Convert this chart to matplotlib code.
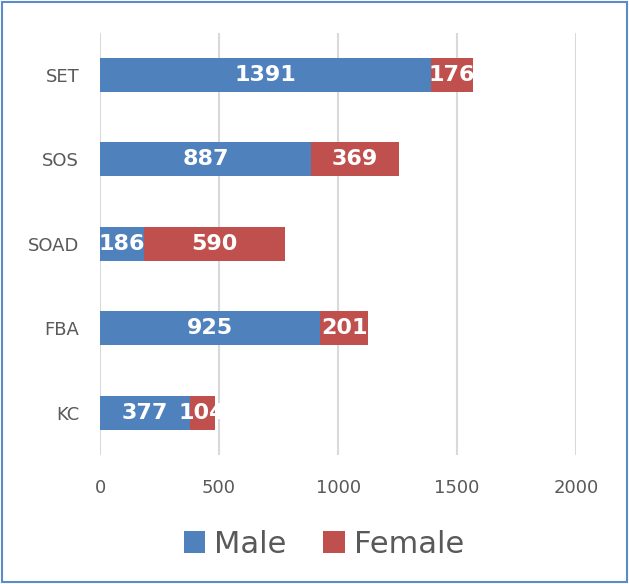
import numpy as np
import matplotlib.pyplot as plt
from matplotlib.patches import Rectangle

# -- data --
schools = ["SET", "SOS", "SOAD", "FBA", "KC"]
male = [1391, 887, 186, 925, 377]
female = [176, 369, 590, 201, 104]
xticks = [0, 500, 1000, 1500, 2000]

blue = "#4F81BD"
red = "#C0504D"
grey = "#595959"

fig = plt.figure(figsize=(6.29, 5.84), dpi=100)
ax = fig.add_axes([0.159, 0.221, 0.757, 0.723])

y = np.arange(len(schools))
h = 0.4
ax.barh(y, male, height=h, color=blue, label="Male", zorder=3)
ax.barh(y, female, left=male, height=h, color=red, label="Female", zorder=3)

# -- data labels --
for i in range(len(schools)):
    ax.text(male[i] / 2, y[i], str(male[i]), ha="center", va="center",
            color="white", fontsize=16, fontweight="bold", zorder=4)
    ax.text(male[i] + female[i] / 2, y[i], str(female[i]), ha="center", va="center",
            color="white", fontsize=16, fontweight="bold", zorder=4)

ax.set_xlim(0, 2000)
ax.set_ylim(len(schools) - 0.5, -0.5)
ax.set_yticks(y)
ax.set_yticklabels(schools)
ax.set_xticks(xticks)
ax.tick_params(axis="both", length=0, colors=grey, labelsize=13)
ax.tick_params(axis="y", pad=15)
ax.tick_params(axis="x", pad=17)
ax.grid(axis="x", color="#D9D9D9", linewidth=1.5, zorder=0)
for s in ax.spines.values():
    s.set_visible(False)

leg = fig.legend(loc="center", bbox_to_anchor=(0.515, 0.068), ncol=2, frameon=False,
                 fontsize=22, handlelength=0.7, handleheight=0.7, handletextpad=0.3,
                 columnspacing=1.2)
for t in leg.get_texts():
    t.set_color(grey)

# -- border around the chart --
fig.patches.append(Rectangle((0.003, 0.004), 0.994, 0.992, transform=fig.transFigure,
                             fill=False, edgecolor="#5B8BC9", linewidth=1.5))

fig.savefig("out.png", dpi=100)
